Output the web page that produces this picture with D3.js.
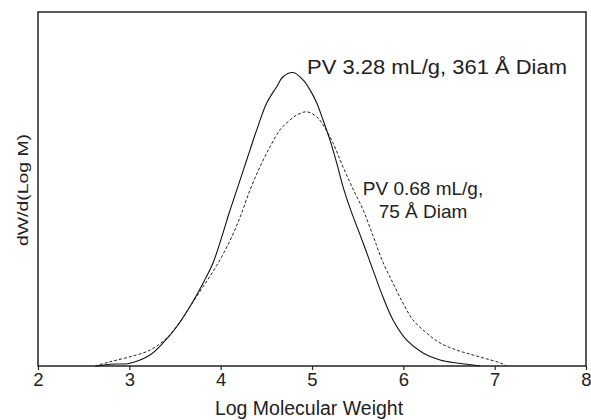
<!DOCTYPE html>
<html>
<head>
<meta charset="utf-8">
<script src="https://cdn.jsdelivr.net/npm/d3@7"></script>
<style>
  body { margin: 0; background: #fff; }
  text { font-family: "Liberation Sans", Arial, sans-serif; fill: #222; }
</style>
</head>
<body>
<div id="chart"></div>
<script>
var width = 591,
    height = 420;

// data (x = log M, y = relative dW/d(log M))
var wideLogM = [2.635, 2.788, 3.007, 3.226, 3.369, 3.519, 3.664, 3.807, 3.916, 4.026, 4.09, 4.176, 4.285, 4.395,
  4.504, 4.614, 4.683, 4.792, 4.902, 4.978, 5.052, 5.121, 5.197, 5.271, 5.340, 5.416, 5.558,
  5.668, 5.777, 5.887, 6.037, 6.215, 6.402, 6.584, 6.763, 6.840];
var wideW = [0, 0.5, 0.8, 3.1, 6.5, 11.1, 16.8, 23.4, 29.1, 37.6, 43.0, 49.7, 58.2, 66.7,
  74.3, 78.9, 81.7, 82.9, 80.8, 78.0, 74.3, 69.5, 63.8, 57.3, 50.6, 44.6, 34.9,
  27.1, 19.5, 13.0, 7.3, 3.7, 1.7, 0.85, 0.28, 0];

var narrowLogM = [2.624, 2.788, 3.007, 3.226, 3.409, 3.555, 3.664, 3.807, 3.957, 4.102, 4.212, 4.321, 4.431,
  4.540, 4.650, 4.759, 4.833, 4.942, 5.052, 5.121, 5.230, 5.340, 5.449, 5.558, 5.668, 5.777,
  5.887, 5.996, 6.106, 6.256, 6.402, 6.584, 6.763, 6.913, 7.059, 7.132];
var narrowW = [0, 1.2, 2.6, 4.5, 7.9, 12.5, 16.8, 22.4, 28.4, 35.4, 42.0, 49.7, 56.3,
  61.9, 66.7, 69.5, 70.9, 71.8, 70.4, 68.1, 63.0, 56.2, 50.0, 44.2, 36.8, 29.3,
  23.4, 17.8, 13.0, 9.3, 6.5, 4.5, 3.1, 2.0, 0.9, 0];

var xTicks = [2, 3, 4, 5, 6, 7, 8];

var svg = d3.select('#chart').append('svg')
    .attr('width', width)
    .attr('height', height);

// plot box
var plotL = 38, plotR = 586, plotT = 12, plotB = 366;

// scales
let scaleX = d3.scaleLinear().domain([2, 8]).range([plotL, plotR]);
let scaleY = d3.scaleLinear().domain([0, 100]).range([plotB, plotT]);

// x axis
var axisX = d3.axisBottom(scaleX)
    .tickValues(xTicks)
    .tickSize(4)
    .tickPadding(3)
    .tickFormat(d3.format("d"));
var gx = svg.append('g')
    .attr("transform", "translate(0," + plotB + ")")
    .call(axisX);
gx.select(".domain").remove();
gx.selectAll(".tick line").attr("stroke", "#222").attr("stroke-width", 1.2);
gx.selectAll(".tick text")
    .attr("font-size", 18.5)
    .attr("font-family", '"Liberation Sans", Arial, sans-serif')
    .attr("fill", "#222");

// frame
svg.append("rect")
    .attr("x", plotL)
    .attr("y", plotT)
    .attr("width", plotR - plotL)
    .attr("height", plotB - plotT)
    .attr("fill", "none")
    .attr("stroke", "#222")
    .attr("stroke-width", 1.5);

// curves
let line = d3.line()
    .x(d => scaleX(d[0]))
    .y(d => scaleY(d[1]))
    .curve(d3.curveCatmullRom);

svg.append("path")
    .datum(d3.zip(narrowLogM, narrowW))
    .attr("d", line)
    .attr("fill", "none")
    .attr("stroke", "#222")
    .attr("stroke-width", 1)
    .attr("stroke-dasharray", "3,2");

svg.append("path")
    .datum(d3.zip(wideLogM, wideW))
    .attr("d", line)
    .attr("fill", "none")
    .attr("stroke", "#111")
    .attr("stroke-width", 1.1);

// labels
svg.append("text")
    .attr("x", 309)
    .attr("y", 415)
    .attr("text-anchor", "middle")
    .attr("font-size", 19.5)
    .text("Log Molecular Weight");

svg.append("text")
    .attr("transform", "translate(28,190) rotate(-90)")
    .attr("text-anchor", "middle")
    .attr("font-size", 15)
    .attr("textLength", 112)
    .attr("lengthAdjust", "spacingAndGlyphs")
    .text("dW/d(Log M)");

svg.append("text")
    .attr("x", 307)
    .attr("y", 74)
    .attr("font-size", 19.5)
    .attr("textLength", 260)
    .attr("lengthAdjust", "spacingAndGlyphs")
    .text("PV 3.28 mL/g, 361 Å Diam");

svg.append("text")
    .attr("x", 423)
    .attr("y", 195)
    .attr("text-anchor", "middle")
    .attr("font-size", 19)
    .text("PV 0.68 mL/g,");

svg.append("text")
    .attr("x", 423)
    .attr("y", 218)
    .attr("text-anchor", "middle")
    .attr("font-size", 19)
    .text("75 Å Diam");
</script>
</body>
</html>
